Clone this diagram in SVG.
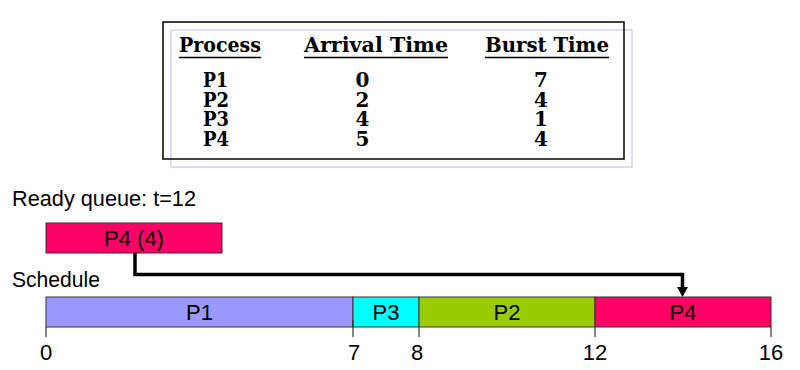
<svg xmlns="http://www.w3.org/2000/svg" width="800" height="370" viewBox="0 0 800 370">
<style>
.hd{font-family:"DejaVu Serif","Liberation Serif",serif;font-weight:bold;font-size:20px;fill:#000}
.cell{font-family:"DejaVu Serif","Liberation Serif",serif;font-weight:bold;font-size:20px;fill:#000}
.sans{font-family:"Liberation Sans",Arial,sans-serif;font-size:22px;fill:#000}
.lbl{font-family:"Liberation Sans",Arial,sans-serif;font-size:22px;fill:#000;text-anchor:middle}
.seg{stroke:#333;stroke-width:1}
.tick{stroke:#333;stroke-width:1.2}
.conn{fill:none;stroke:#000;stroke-width:3.5}
</style>
<g id="table">
<rect x="171" y="30" width="461" height="137" fill="none" stroke="#c8c8ee" stroke-width="1.2"/>
<rect x="163" y="22" width="461" height="137" fill="none" stroke="#000" stroke-width="1.5"/>
<text class="hd" x="179" y="51.5" textLength="82" lengthAdjust="spacingAndGlyphs">Process</text>
<text class="hd" x="304" y="51.5" textLength="144" lengthAdjust="spacingAndGlyphs">Arrival Time</text>
<text class="hd" x="485" y="51.5" textLength="124" lengthAdjust="spacingAndGlyphs">Burst Time</text>
<line x1="179" y1="57.5" x2="261" y2="57.5" stroke="#000" stroke-width="1.5"/>
<line x1="304" y1="57.5" x2="448" y2="57.5" stroke="#000" stroke-width="1.5"/>
<line x1="485" y1="57.5" x2="609" y2="57.5" stroke="#000" stroke-width="1.5"/>
<text class="cell" x="203" y="87" textLength="25" lengthAdjust="spacingAndGlyphs">P1</text>
<text class="cell" x="203" y="106.5" textLength="26" lengthAdjust="spacingAndGlyphs">P2</text>
<text class="cell" x="203" y="126" textLength="26" lengthAdjust="spacingAndGlyphs">P3</text>
<text class="cell" x="203" y="145.5" textLength="26" lengthAdjust="spacingAndGlyphs">P4</text>
<g text-anchor="middle">
<text class="cell" x="362.5" y="87">0</text>
<text class="cell" x="362.5" y="106.5">2</text>
<text class="cell" x="362.5" y="126">4</text>
<text class="cell" x="362.5" y="145.5">5</text>
<text class="cell" x="541" y="87">7</text>
<text class="cell" x="541" y="106.5">4</text>
<text class="cell" x="541" y="126">1</text>
<text class="cell" x="541" y="145.5">4</text>
</g>
</g>
<text class="sans" x="12" y="206" textLength="184" lengthAdjust="spacingAndGlyphs">Ready queue: t=12</text>
<text class="sans" x="12" y="286.5" textLength="88" lengthAdjust="spacingAndGlyphs">Schedule</text>
<g id="queue-P4">
<rect x="46" y="223" width="176" height="30" fill="#ff0066" class="seg"/>
<text class="lbl" x="134" y="246">P4 (4)</text>
</g>
<g id="connectors">
<path class="conn" d="M135,253 V274.5 H682.5 V288"/>
<path d="M677,287 L688,287 L682.5,297 z" fill="#000"/>
</g>
<g id="seg-P1">
<rect x="46" y="297" width="307" height="30" fill="#9999ff" class="seg"/>
<text class="lbl" x="199.5" y="320">P1</text>
</g>
<g id="seg-P3">
<rect x="353" y="297" width="66" height="30" fill="#00ffff" class="seg"/>
<text class="lbl" x="386" y="320">P3</text>
</g>
<g id="seg-P2">
<rect x="419" y="297" width="176" height="30" fill="#99cc00" class="seg"/>
<text class="lbl" x="507" y="320">P2</text>
</g>
<g id="seg-P4">
<rect x="595" y="297" width="176" height="30" fill="#ff0066" class="seg"/>
<text class="lbl" x="683" y="320">P4</text>
</g>
<g id="axis">
<line class="tick" x1="46" y1="327" x2="46" y2="337"/>
<line class="tick" x1="353" y1="320" x2="353" y2="337"/>
<line class="tick" x1="419" y1="327" x2="419" y2="337"/>
<line class="tick" x1="595" y1="327" x2="595" y2="337"/>
<line class="tick" x1="771" y1="327" x2="771" y2="337"/>
<text class="lbl" x="46" y="360">0</text>
<text class="lbl" x="354" y="360">7</text>
<text class="lbl" x="417" y="360">8</text>
<text class="lbl" x="595" y="360">12</text>
<text class="lbl" x="771" y="360">16</text>
</g>
</svg>
